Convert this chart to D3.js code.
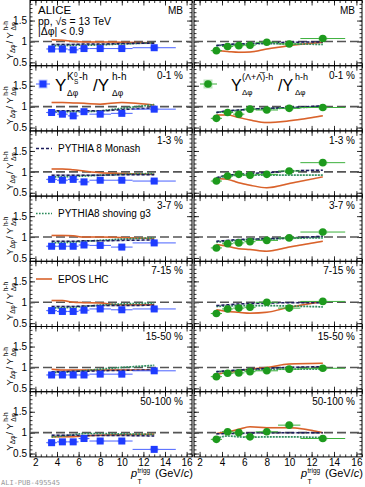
<!DOCTYPE html>
<html lang="en">
<head>
<meta charset="utf-8">
<title>Yield ratios vs multiplicity</title>
<style>
body { margin: 0; background: #fff; }
svg { display: block; font-family: "Liberation Sans", Arial, sans-serif; }
</style>
</head>
<body>
<script src="https://cdn.jsdelivr.net/npm/d3@7"></script>
<script>

var rowLabels = ["MB", "0-1 %", "1-3 %", "3-7 %", "7-15 %", "15-50 %", "50-100 %"];
var ptCenter = [3.5, 4.5, 5.5, 6.5, 8, 10, 13];
var ptLow = [3, 4, 5, 6, 7, 9, 11];
var ptHigh = [4, 5, 6, 7, 9, 11, 15];
var xTicks = [2, 4, 6, 8, 10, 12, 14, 16];
var yTicks = [0.5, 1, 1.5];

// K0S-h / h-h, one row per multiplicity class
var k0sRatio = [
  [0.82, 0.82, 0.80, 0.83, 0.83, 0.83, 0.85],
  [0.86, 0.82, 0.78, 0.88, 0.82, 0.84, 0.94],
  [0.82, 0.80, 0.82, 0.76, 0.80, 0.80, 0.78],
  [0.78, 0.78, 0.78, 0.81, 0.80, 0.76, 0.86],
  [0.80, 0.78, 0.78, 0.81, 0.84, 0.82, 0.84],
  [0.82, 0.82, 0.82, 0.82, 0.84, 0.84, 0.92],
  [0.76, 0.78, 0.78, 0.86, 0.80, 0.80, 0.60]
];
var k0sStat = [0.01, 0.01, 0.01, 0.012, 0.015, 0.02, 0.03];
var k0sSyst = [0.03, 0.03, 0.03, 0.03, 0.03, 0.03, 0.035];

// (Lambda+AntiLambda)-h / h-h
var lamRatio = [
  [0.78, 0.88, 0.90, 0.91, 0.98, 0.94, 1.07],
  [0.72, 0.86, 0.82, 0.94, 0.92, 0.96, 0.98],
  [0.78, 0.90, 0.94, 0.92, 0.94, 1.02, 1.22],
  [0.74, 0.84, 0.86, 0.89, 0.92, 0.98, 1.12],
  [0.73, 0.84, 0.86, 0.88, 1.00, 0.86, 1.02],
  [0.78, 0.86, 0.87, 0.90, 0.92, 0.96, 0.98],
  [0.84, 1.02, 1.00, 0.90, 1.02, 1.18, 0.86]
];
var lamStat = [0.02, 0.02, 0.02, 0.025, 0.03, 0.04, 0.06];
var lamSyst = [0.035, 0.035, 0.035, 0.035, 0.04, 0.04, 0.045];

// models, K0S side
var monashK0s = [
  [0.93, 0.93, 0.93, 0.94, 0.94, 0.95, 0.96],
  [0.90, 0.90, 0.90, 0.90, 0.90, 0.93, 0.97],
  [0.92, 0.92, 0.92, 0.92, 0.92, 0.93, 0.93],
  [0.90, 0.90, 0.90, 0.91, 0.91, 0.92, 0.93],
  [0.90, 0.90, 0.90, 0.91, 0.92, 0.92, 0.93],
  [0.90, 0.90, 0.91, 0.91, 0.92, 0.93, 0.94],
  [0.94, 0.94, 0.94, 0.93, 0.93, 0.93, 0.92]
];
var shovingK0s = [
  [0.90, 0.90, 0.91, 0.91, 0.92, 0.94, 0.97],
  [0.88, 0.88, 0.88, 0.88, 0.90, 0.96, 1.05],
  [0.88, 0.88, 0.89, 0.90, 0.92, 0.94, 0.96],
  [0.86, 0.87, 0.88, 0.90, 0.92, 0.95, 0.98],
  [0.86, 0.87, 0.88, 0.90, 0.93, 0.96, 0.98],
  [0.88, 0.89, 0.90, 0.92, 0.96, 1.00, 1.05],
  [0.90, 0.92, 0.95, 0.98, 0.98, 0.97, 0.96]
];
var eposK0s = [
  [1.04, 1.03, 1.00, 0.99, 0.99, 0.98, 0.97],
  [1.10, 1.10, 1.09, 1.08, 1.06, 1.10, 1.04],
  [1.07, 1.07, 1.05, 1.02, 0.98, 0.96, 0.94],
  [1.04, 1.04, 1.03, 1.00, 1.00, 0.99, 0.96],
  [1.04, 1.04, 1.00, 0.99, 0.98, 0.94, 0.94],
  [0.96, 0.94, 0.94, 0.94, 0.94, 0.94, 0.94],
  [0.90, 0.90, 0.90, 0.92, 0.94, 0.95, 0.96]
];

// models, Lambda side
var monashLam = [
  [0.90, 0.93, 0.94, 0.95, 0.97, 0.98, 0.99],
  [0.86, 0.90, 0.92, 0.94, 0.96, 0.98, 1.02],
  [0.86, 0.92, 0.94, 0.96, 0.98, 1.02, 1.04],
  [0.90, 0.92, 0.94, 0.95, 0.96, 0.98, 1.02],
  [0.92, 0.94, 0.96, 0.97, 0.98, 0.99, 0.99],
  [0.90, 0.92, 0.94, 0.96, 0.98, 1.00, 1.02],
  [0.97, 0.98, 0.98, 0.99, 1.00, 1.00, 1.00]
];
var shovingLam = [
  [0.90, 0.92, 0.93, 0.94, 0.95, 0.94, 0.93],
  [0.86, 0.89, 0.91, 0.94, 0.95, 0.97, 1.00],
  [0.84, 0.90, 0.92, 0.92, 0.92, 0.92, 0.92],
  [0.88, 0.90, 0.92, 0.94, 0.95, 0.97, 0.98],
  [0.90, 0.91, 0.92, 0.92, 0.92, 0.91, 0.89],
  [0.90, 0.91, 0.93, 0.94, 0.95, 0.96, 0.96],
  [0.86, 0.92, 0.90, 0.89, 0.90, 0.90, 0.88]
];
var eposLam = [
  [0.78, 0.76, 0.74, 0.75, 0.82, 0.90, 0.98],
  [0.80, 0.80, 0.74, 0.68, 0.62, 0.66, 0.78],
  [0.84, 0.82, 0.74, 0.68, 0.62, 0.72, 0.88],
  [0.82, 0.78, 0.72, 0.70, 0.66, 0.76, 0.90],
  [0.82, 0.78, 0.76, 0.74, 0.76, 0.88, 1.02],
  [0.84, 0.88, 0.92, 0.96, 1.00, 1.08, 1.10],
  [0.98, 1.02, 1.08, 1.14, 1.12, 1.12, 1.00]
];

var W = 365, H = 487;
var rowTop = 0.5, rowH = 65.2;
var blue = "#1f3cff", green = "#1d9a1d";
var cMonash = "#1c1c5c", cShoving = "#2b8a5a", cEpos = "#d9622b";

var svg = d3.select("body").append("svg")
  .attr("width", W).attr("height", H);

var xL = d3.scaleLinear().domain([1.5, 16.5]).range([30, 192]);
var xR = d3.scaleLinear().domain([1.5, 16.5]).range([194, 362]);

var xMinor = d3.range(1.5, 16.51, 0.5);
var yMinor = d3.range(0.5, 1.99, 0.1);

function drawFrame(g, x, y, withYLabels, withXLabels) {
  var x0 = x.range()[0], x1 = x.range()[1];
  var y0 = y.range()[1], y1 = y.range()[0];

  g.append("g").attr("transform", "translate(0," + y1 + ")")
    .call(d3.axisBottom(x).tickValues(xTicks).tickSizeInner(-5).tickSizeOuter(0).tickPadding(2)
      .tickFormat(withXLabels ? d3.format("d") : ""));
  g.append("g").attr("transform", "translate(0," + y1 + ")")
    .call(d3.axisBottom(x).tickValues(xMinor).tickSizeInner(-2.5).tickSizeOuter(0).tickFormat(""));
  g.append("g").attr("transform", "translate(0," + y0 + ")")
    .call(d3.axisTop(x).tickValues(xTicks).tickSizeInner(-5).tickSizeOuter(0).tickFormat(""));
  g.append("g").attr("transform", "translate(0," + y0 + ")")
    .call(d3.axisTop(x).tickValues(xMinor).tickSizeInner(-2.5).tickSizeOuter(0).tickFormat(""));

  g.append("g").attr("transform", "translate(" + x0 + ",0)")
    .call(d3.axisLeft(y).tickValues(yTicks).tickSizeInner(-5).tickSizeOuter(0).tickPadding(3)
      .tickFormat(withYLabels ? function(d) { return d; } : ""));
  g.append("g").attr("transform", "translate(" + x0 + ",0)")
    .call(d3.axisLeft(y).tickValues(yMinor).tickSizeInner(-2.5).tickSizeOuter(0).tickFormat(""));
  g.append("g").attr("transform", "translate(" + x1 + ",0)")
    .call(d3.axisRight(y).tickValues(yTicks).tickSizeInner(-5).tickSizeOuter(0).tickFormat(""));
  g.append("g").attr("transform", "translate(" + x1 + ",0)")
    .call(d3.axisRight(y).tickValues(yMinor).tickSizeInner(-2.5).tickSizeOuter(0).tickFormat(""));

  g.selectAll(".domain").remove();
  g.selectAll(".tick line").attr("stroke", "#000").attr("stroke-width", 0.8);
  g.selectAll(".tick text").attr("font-family", "Liberation Sans, Arial, sans-serif")
    .attr("font-size", 10).attr("fill", "#000");

  g.append("rect")
    .attr("x", x0).attr("y", y0).attr("width", x1 - x0).attr("height", y1 - y0)
    .attr("fill", "none").attr("stroke", "#000").attr("stroke-width", 1);

  g.append("line")
    .attr("x1", x0).attr("x2", x1).attr("y1", y(1)).attr("y2", y(1))
    .attr("stroke", "#555").attr("stroke-width", 1.6).attr("stroke-dasharray", "9,4");
}

function drawModel(g, x, y, vals, color, dash, width) {
  var band = d3.area()
    .x(function(d, i) { return x(ptCenter[i]); })
    .y0(function(d) { return y(d - 0.02); })
    .y1(function(d) { return y(d + 0.02); })
    .curve(d3.curveMonotoneX);
  var line = d3.line()
    .x(function(d, i) { return x(ptCenter[i]); })
    .y(function(d) { return y(d); })
    .curve(d3.curveMonotoneX);
  g.append("path").attr("d", band(vals)).attr("fill", color).attr("opacity", 0.22);
  g.append("path").attr("d", line(vals)).attr("fill", "none")
    .attr("stroke", color).attr("stroke-width", width)
    .attr("stroke-dasharray", dash);
}

function drawData(g, x, y, vals, stat, syst, color, boxColor, barColor, square) {
  var pts = g.append("g");
  vals.forEach(function(v, i) {
    var cx = x(ptCenter[i]);
    pts.append("rect")
      .attr("x", x(ptCenter[i] - 0.4)).attr("y", y(v + syst[i]))
      .attr("width", x(ptCenter[i] + 0.4) - x(ptCenter[i] - 0.4))
      .attr("height", y(v - syst[i]) - y(v + syst[i]))
      .attr("fill", boxColor);
    pts.append("line")
      .attr("x1", x(ptLow[i])).attr("x2", x(ptHigh[i]))
      .attr("y1", y(v)).attr("y2", y(v))
      .attr("stroke", barColor).attr("stroke-width", 1);
    pts.append("line")
      .attr("x1", cx).attr("x2", cx)
      .attr("y1", y(v + stat[i])).attr("y2", y(v - stat[i]))
      .attr("stroke", barColor).attr("stroke-width", 1);
    if (square) {
      pts.append("rect").attr("x", cx - 3.5).attr("y", y(v) - 3.5)
        .attr("width", 7).attr("height", 7).attr("fill", color);
    } else {
      pts.append("circle").attr("cx", cx).attr("cy", y(v)).attr("r", 3.8).attr("fill", color);
    }
  });
}

function addText(g, x, y, str, size, anchor) {
  return g.append("text").attr("x", x).attr("y", y)
    .attr("font-size", size).attr("text-anchor", anchor || "start")
    .attr("fill", "#000").text(str);
}

rowLabels.forEach(function(lab, r) {
  var top = rowTop + r * rowH;
  var y = d3.scaleLinear().domain([0.42, 1.98]).range([top + rowH, top]);
  var last = r === rowLabels.length - 1;

  var gl = svg.append("g");
  var gr = svg.append("g");
  drawFrame(gl, xL, y, true, last);
  drawFrame(gr, xR, y, false, last);

  drawModel(gl, xL, y, eposK0s[r], cEpos, null, 1.5);
  drawModel(gl, xL, y, shovingK0s[r], cShoving, "1.6,1.4", 1.7);
  drawModel(gl, xL, y, monashK0s[r], cMonash, "3,2", 1.5);
  drawData(gl, xL, y, k0sRatio[r], k0sStat, k0sSyst, blue, "rgba(90,110,255,0.35)", "#4a62ff", true);

  drawModel(gr, xR, y, eposLam[r], cEpos, null, 1.5);
  drawModel(gr, xR, y, shovingLam[r], cShoving, "1.6,1.4", 1.7);
  drawModel(gr, xR, y, monashLam[r], cMonash, "3,2", 1.5);
  drawData(gr, xR, y, lamRatio[r], lamStat, lamSyst, green, "rgba(70,180,70,0.35)", "#3cb03c", false);

  addText(gl, 183, top + 13, lab, 10, "end");
  addText(gr, 355, top + 13, lab, 10, "end");

  // y axis title, built from separate pieces in a rotated group
  var ty = svg.append("g")
    .attr("transform", "translate(12.5," + (top + 38) + ") rotate(-90)");
  addText(ty, -21, 0, "Y", 9.5);
  addText(ty, -14.5, 2.5, "Δφ", 6.5);
  addText(ty, -5, 0, "/ Y", 9.5);
  addText(ty, 8, -4.5, "h-h", 6.5);
  addText(ty, 8, 3, "Δφ", 6.5);
});

// header text
addText(svg, 38, 14, "ALICE", 11.5);
addText(svg, 38, 24.5, "pp, √s = 13 TeV", 10.5);
addText(svg, 38, 35, "|Δφ| < 0.9", 10.5);

// legends for the data
var t1 = svg.append("g");
t1.append("rect").attr("x", 38.5).attr("y", 79.5).attr("width", 9).attr("height", 9).attr("fill", "rgba(90,110,255,0.35)");
t1.append("line").attr("x1", 36).attr("x2", 50).attr("y1", 84).attr("y2", 84).attr("stroke", "#4a62ff");
t1.append("rect").attr("x", 39.5).attr("y", 80.5).attr("width", 7).attr("height", 7).attr("fill", blue);
addText(t1, 55, 91, "Y", 17);
addText(t1, 67, 80, "K", 10);
addText(t1, 74, 77, "0", 6.5);
addText(t1, 74, 84, "S", 6.5);
addText(t1, 79, 80, "-h", 10);
addText(t1, 67, 95.5, "Δφ", 8.5);
addText(t1, 93, 91, "/Y", 17);
addText(t1, 112, 80, "h-h", 10);
addText(t1, 112, 95.5, "Δφ", 8.5);

var t2 = svg.append("g");
t2.append("rect").attr("x", 203.5).attr("y", 79.5).attr("width", 9).attr("height", 9).attr("fill", "rgba(70,180,70,0.35)");
t2.append("line").attr("x1", 200).attr("x2", 217).attr("y1", 84).attr("y2", 84).attr("stroke", "#3cb03c");
t2.append("circle").attr("cx", 208).attr("cy", 84).attr("r", 3.8).attr("fill", green);
addText(t2, 231, 91, "Y", 16);
addText(t2, 242, 80, "(Λ+Λ̅)-h", 9);
addText(t2, 242, 95, "Δφ", 8);
addText(t2, 278, 91, "/Y", 16);
addText(t2, 295, 80, "h-h", 9);
addText(t2, 295, 95, "Δφ", 8);

// legends for the models
var legendModels = [
  { y: 148.5, color: cMonash, dash: "3,2", text: "PYTHIA 8 Monash" },
  { y: 213.5, color: cShoving, dash: "1.6,1.4", text: "PYTHIA8 shoving g3" },
  { y: 279, color: cEpos, dash: null, text: "EPOS LHC" }
];
legendModels.forEach(function(m) {
  svg.append("line").attr("x1", 36).attr("x2", 52).attr("y1", m.y).attr("y2", m.y)
    .attr("stroke", m.color).attr("stroke-width", 1.6).attr("stroke-dasharray", m.dash);
  addText(svg, 58, m.y + 3.5, m.text, 10);
});

// x axis titles
[192, 362].forEach(function(xe) {
  var xs = xe - 61;
  var p = addText(svg, xs, 477, "p", 11);
  p.attr("font-style", "italic");
  addText(svg, xs + 6.5, 473, "trigg", 6.5);
  addText(svg, xs + 6.5, 483.5, "T", 7);
  var unit = addText(svg, xs + 24, 477, "(GeV/", 11);
  unit.append("tspan").attr("font-style", "italic").text("c");
  unit.append("tspan").text(")");
});

svg.append("text").attr("x", 1).attr("y", 485)
  .attr("font-family", "DejaVu Sans Mono, monospace").attr("font-size", 7)
  .attr("fill", "#999").text("ALI-PUB-495545");

</script>
</body>
</html>
